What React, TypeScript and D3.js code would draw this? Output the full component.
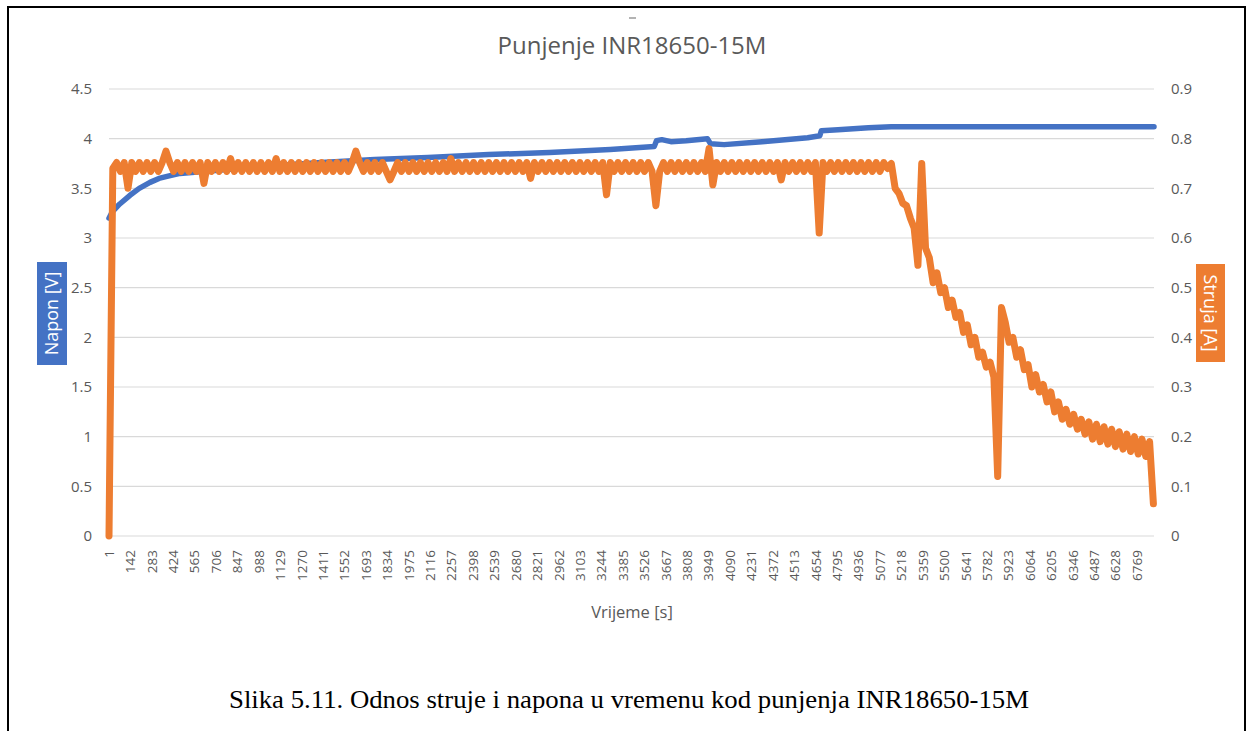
import React from "react";
import * as d3 from "d3";

const W = 1252;
const H = 731;

const chartTitle = "Punjenje INR18650-15M";
const xTitle = "Vrijeme [s]";
const leftTitle = "Napon [V]";
const rightTitle = "Struja [A]";
const caption = "Slika 5.11. Odnos struje i napona u vremenu kod punjenja INR18650-15M";

const xTickLabels = [1, 142, 283, 424, 565, 706, 847, 988, 1129, 1270, 1411, 1552, 1693, 1834, 1975, 2116, 2257, 2398, 2539, 2680, 2821, 2962, 3103, 3244, 3385, 3526, 3667, 3808, 3949, 4090, 4231, 4372, 4513, 4654, 4795, 4936, 5077, 5218, 5359, 5500, 5641, 5782, 5923, 6064, 6205, 6346, 6487, 6628, 6769];
const leftTicks = [0, 0.5, 1, 1.5, 2, 2.5, 3, 3.5, 4, 4.5];
const rightTicks = [0, 0.1, 0.2, 0.3, 0.4, 0.5, 0.6, 0.7, 0.8, 0.9];

// Voltage [V]: (time, value)
const voltageTime = [1, 21, 70, 139, 200, 271, 330, 383, 468, 700, 1000, 1400, 1750, 2100, 2500, 2900, 3300, 3590, 3605, 3640, 3700, 3800, 3940, 3960, 4050, 4300, 4600, 4680, 4690, 4800, 5000, 5150, 6880];
const voltageValue = [3.2, 3.26, 3.34, 3.43, 3.5, 3.56, 3.6, 3.62, 3.65, 3.68, 3.72, 3.76, 3.79, 3.81, 3.84, 3.86, 3.89, 3.92, 3.98, 3.99, 3.97, 3.98, 4.0, 3.95, 3.94, 3.97, 4.01, 4.03, 4.08, 4.09, 4.11, 4.12, 4.12];

// Current [A]: one reading every 25 s starting at t = 1
const currentStart = 1;
const currentStep = 25;
const currentValue = [
  0, 0.74, 0.752, 0.734, 0.752, 0.70, 0.752, 0.734, 0.752, 0.734, 0.752, 0.734,
  0.752, 0.734, 0.752, 0.775, 0.752, 0.734, 0.752, 0.734, 0.752, 0.734, 0.752, 0.734,
  0.752, 0.71, 0.752, 0.734, 0.752, 0.734, 0.752, 0.734, 0.76, 0.734, 0.752, 0.734,
  0.752, 0.734, 0.752, 0.734, 0.752, 0.734, 0.752, 0.734, 0.76, 0.734, 0.752, 0.734,
  0.752, 0.734, 0.752, 0.734, 0.752, 0.734, 0.752, 0.734, 0.752, 0.734, 0.752, 0.734,
  0.752, 0.734, 0.752, 0.734, 0.752, 0.775, 0.752, 0.734, 0.752, 0.734, 0.752, 0.734,
  0.752, 0.734, 0.717, 0.734, 0.752, 0.734, 0.752, 0.734, 0.752, 0.734, 0.752, 0.734,
  0.752, 0.734, 0.752, 0.734, 0.752, 0.734, 0.76, 0.734, 0.752, 0.734, 0.752, 0.734,
  0.752, 0.734, 0.752, 0.734, 0.752, 0.734, 0.752, 0.734, 0.752, 0.734, 0.752, 0.734,
  0.752, 0.734, 0.752, 0.72, 0.752, 0.734, 0.752, 0.734, 0.752, 0.734, 0.752, 0.734,
  0.752, 0.734, 0.752, 0.734, 0.752, 0.734, 0.752, 0.734, 0.752, 0.734, 0.752, 0.687,
  0.752, 0.734, 0.752, 0.734, 0.752, 0.734, 0.752, 0.734, 0.752, 0.734, 0.752, 0.734,
  0.665, 0.734, 0.752, 0.734, 0.752, 0.734, 0.752, 0.734, 0.752, 0.734, 0.752, 0.734,
  0.752, 0.734, 0.78, 0.707, 0.752, 0.734, 0.752, 0.734, 0.752, 0.734, 0.752, 0.734,
  0.752, 0.734, 0.752, 0.734, 0.752, 0.734, 0.752, 0.734, 0.752, 0.717, 0.752, 0.734,
  0.752, 0.734, 0.752, 0.734, 0.752, 0.734, 0.752, 0.61, 0.752, 0.734, 0.752, 0.734,
  0.752, 0.734, 0.752, 0.734, 0.752, 0.734, 0.752, 0.734, 0.752, 0.734, 0.752, 0.734,
  0.752, 0.74, 0.75, 0.70, 0.69, 0.67, 0.665, 0.64, 0.62, 0.545, 0.75, 0.58,
  0.56, 0.51, 0.53, 0.49, 0.50, 0.46, 0.475, 0.44, 0.45, 0.41, 0.425, 0.385,
  0.40, 0.36, 0.37, 0.34, 0.35, 0.32, 0.12, 0.46, 0.43, 0.39, 0.40, 0.36,
  0.375, 0.335, 0.345, 0.30, 0.325, 0.29, 0.305, 0.27, 0.29, 0.25, 0.27, 0.235,
  0.255, 0.225, 0.245, 0.215, 0.235, 0.205, 0.23, 0.195, 0.225, 0.19, 0.22, 0.185,
  0.215, 0.18, 0.21, 0.175, 0.205, 0.17, 0.2, 0.165, 0.195, 0.16, 0.19, 0.065,
];

const BLUE = "#4472C4";
const ORANGE = "#ED7D31";
const GRID = "#D9D9D9";
const TEXT = "#595959";
const FONT = "'Open Sans', 'Noto Sans', sans-serif";
const SERIF = "'Liberation Serif', 'Times New Roman', Times, serif";

export default function App() {
  const left = 109;
  const right = 1154;
  const top = 89;
  const bottom = 536;

  const x = d3.scaleLinear().domain([1, 6880]).range([left, right]);
  const yL = d3.scaleLinear().domain([0, 4.5]).range([bottom, top]);
  const yR = d3.scaleLinear().domain([0, 0.9]).range([bottom, top]);

  const vPts: [number, number][] = voltageTime.map((t, i) => [t, voltageValue[i]]);
  const cPts: [number, number][] = currentValue.map((v, i) => [currentStart + i * currentStep, v]);

  const vLine = d3.line<[number, number]>().x((d) => x(d[0])).y((d) => yL(d[1]));
  const cLine = d3.line<[number, number]>().x((d) => x(d[0])).y((d) => yR(d[1]));

  const midX = (left + right) / 2 + 0.5;

  return (
    <svg width={W} height={H} style={{ position: "absolute", left: 0, top: 0, background: "#fff" }}>
      <rect x={0} y={0} width={W} height={H} fill="#fff" />
      {/* frame */}
      <path d={`M8,${H + 5} L8,7 L1245,7 L1245,${H + 5}`} fill="none" stroke="#000" strokeWidth={2} />
      <line x1={629} x2={636} y1={18} y2={18} stroke="#9a9a9a" strokeWidth={1.5} />

      {/* title */}
      <text x={632} y={54} textAnchor="middle" fontFamily={FONT} fontSize={24} fill={TEXT}>
        {chartTitle}
      </text>

      {/* gridlines */}
      {leftTicks.map((t) => (
        <line key={"g" + t} x1={left} x2={right} y1={yL(t)} y2={yL(t)} stroke={GRID} strokeWidth={1.2} />
      ))}

      {/* left ticks */}
      {leftTicks.map((t) => (
        <text key={"l" + t} x={92} y={yL(t)} dy="0.35em" textAnchor="end" fontFamily={FONT} fontSize={15} fill={TEXT}>
          {String(t)}
        </text>
      ))}
      {/* right ticks */}
      {rightTicks.map((t) => (
        <text key={"r" + t} x={1171} y={yR(t)} dy="0.35em" textAnchor="start" fontFamily={FONT} fontSize={15} fill={TEXT}>
          {String(t)}
        </text>
      ))}

      {/* x tick labels */}
      {xTickLabels.map((t) => (
        <text
          key={"x" + t}
          transform={`translate(${x(t)},550) rotate(-90)`}
          dy="0.35em"
          textAnchor="end"
          fontFamily={FONT}
          fontSize={13.5}
          fill={TEXT}
        >
          {String(t)}
        </text>
      ))}

      {/* x title */}
      <text x={midX} y={618} textAnchor="middle" fontFamily={FONT} fontSize={16.5} fill={TEXT}>
        {xTitle}
      </text>

      {/* left axis title */}
      <rect x={37} y={262} width={30} height={103} fill={BLUE} />
      <text transform="translate(52,313.5) rotate(-90)" dy="0.35em" textAnchor="middle" fontFamily={FONT} fontSize={18} fill="#fff">
        {leftTitle}
      </text>

      {/* right axis title */}
      <rect x={1196} y={264} width={29} height={98} fill={ORANGE} />
      <text transform="translate(1210.5,313) rotate(90)" dy="0.35em" textAnchor="middle" fontFamily={FONT} fontSize={18} fill="#fff">
        {rightTitle}
      </text>

      {/* series */}
      <path d={vLine(vPts) || ""} fill="none" stroke={BLUE} strokeWidth={5.5} strokeLinejoin="round" strokeLinecap="round" />
      <path d={cLine(cPts) || ""} fill="none" stroke={ORANGE} strokeWidth={7} strokeLinejoin="round" strokeLinecap="round" />

      {/* caption */}
      <text x={629} y={708} textAnchor="middle" fontFamily={SERIF} fontSize={26} fill="#000" textLength={800} lengthAdjust="spacingAndGlyphs">
        {caption}
      </text>
    </svg>
  );
}
